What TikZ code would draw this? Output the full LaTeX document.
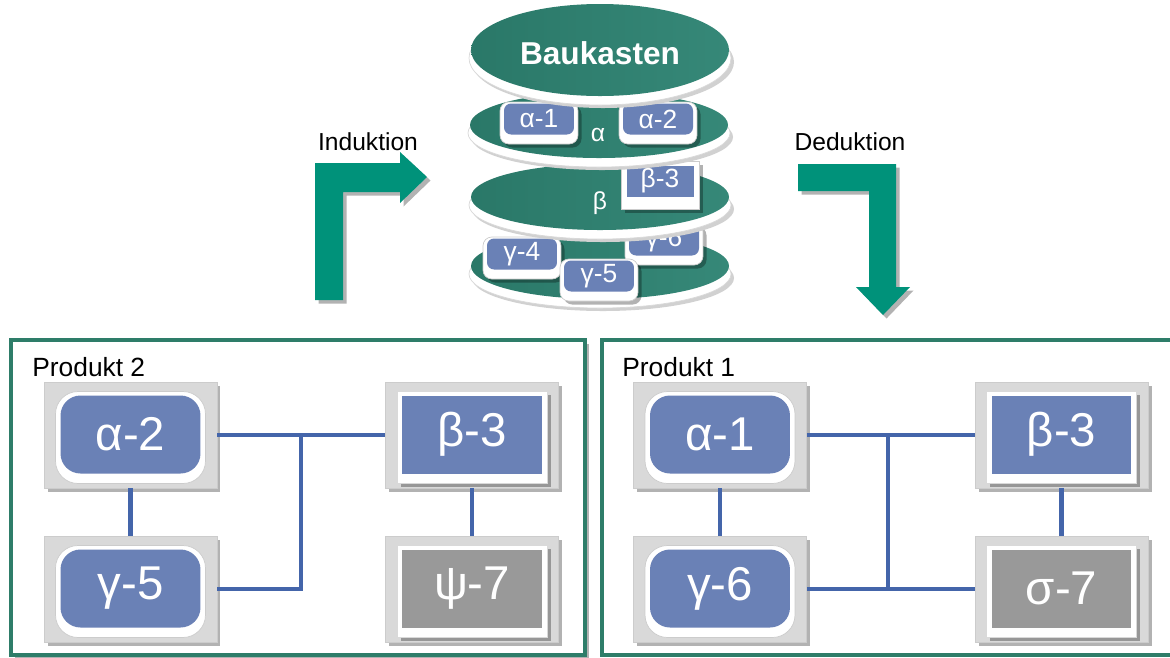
\documentclass[tikz,border=0pt]{standalone}
\usepackage{fontspec}
\setmainfont{Liberation Sans}
\definecolor{kit_teal}{RGB}{54,136,120}
\definecolor{kit_dark}{RGB}{42,120,104}
\definecolor{kit_arrow}{RGB}{0,146,122}
\definecolor{kit_frame}{RGB}{46,125,105}
\definecolor{kit_blue}{RGB}{106,129,182}
\definecolor{kit_link}{RGB}{68,101,170}
\definecolor{kit_gray}{RGB}{217,217,217}
\definecolor{kit_part}{RGB}{153,153,153}
\usetikzlibrary{shadows}

% one disc of the stack: x, y, y radius
\newcommand{\kitdisk}[3]{%
  \fill[black!18] (#1+3,#2+12) ellipse (131 and #3);
  \fill[white, draw=black!15] (#1,#2+8) ellipse (131 and #3+1);
  \shade[left color=kit_dark, right color=kit_teal] (#1,#2) ellipse (129 and #3);
}
% small part lying on a disc: name, x, y, style, label
\newcommand{\kitpart}[5]{%
  \node[#4base] (#1b) at (#2,#3+4) {};
  \node[#4] (#1) at (#2,#3) {#5};
}
% part in a product: name, x, y, style, label
\newcommand{\prodpart}[5]{%
  \node[partbg] (#1) at (#2,#3) {};
  \node[#4base] (#1b) at (#2,#3+2.5) {};
  \node[#4] (#1t) at (#2,#3-0.5) {#5};
}

\begin{document}
\begin{tikzpicture}[x=0.02cm, y=-0.02cm,
          shd/.style={drop shadow={shadow xshift=2pt, shadow yshift=-2pt,
                      opacity=0.3, fill=black}},
          frame/.style={draw=kit_frame, line width=2.6pt},
          link/.style={draw=kit_link, line width=2.7pt},
          label/.style={font=\fontsize{14}{16}\selectfont},
          partbg/.style={fill=kit_gray, draw=black!20, shd,
                         minimum width=3.46cm, minimum height=2.12cm},
          rtilebase/.style={fill=white, draw=black!20, rounded corners=0.45cm,
                            minimum width=3.0cm, minimum height=1.84cm},
          rtile/.style={fill=kit_blue, rounded corners=0.4cm, text=white,
                        minimum width=2.8cm, minimum height=1.56cm,
                        font=\fontsize{27}{30}\selectfont},
          stilebase/.style={fill=white, draw=black!15, shd,
                            minimum width=3.0cm, minimum height=1.84cm},
          stile/.style={rtile, rounded corners=0pt},
          gtilebase/.style={stilebase},
          gtile/.style={stile, fill=kit_part},
          kbbase/.style={fill=white, draw=black!20, rounded corners=5pt, shd,
                         minimum width=1.56cm, minimum height=0.84cm},
          kb/.style={fill=kit_blue, rounded corners=4pt, text=white,
                     inner sep=0pt, minimum width=1.4cm, minimum height=0.62cm,
                     font=\fontsize{15}{16}\selectfont},
          ksbase/.style={kbbase, rounded corners=0pt, minimum height=0.96cm},
          ks/.style={kb, rounded corners=0pt, minimum width=1.34cm}]
  \useasboundingbox (0,0) rectangle (1170,657);

  % the kit: four discs, bottom one first
  \kitdisk{600}{266}{33}
  \kitpart{g6}{664}{240}{kb}{γ-6}
  \kitpart{g4}{522}{254}{kb}{γ-4}
  \kitpart{g5}{599}{276}{kb}{γ-5}
  \kitdisk{600}{197}{33}
  \kitpart{b3}{660}{181}{ks}{β-3}
  \node[label, text=white] (lblbeta) at (600,203) {β};
  \kitdisk{599}{125}{33}
  \kitpart{a1}{539}{119}{kb}{α-1}
  \kitpart{a2}{658}{119}{kb}{α-2}
  \node[label, text=white] (lblalpha) at (598,135) {α};
  \kitdisk{600}{50}{46}
  \node[text=white, font=\bfseries\fontsize{18}{20}\selectfont] (kit) at (600,53) {Baukasten};

  % induction / deduction arrows
  \fill[kit_arrow, shd] (315,300) -- (315,163) -- (400,163) -- (400,152) -- (427,177)
    -- (400,203) -- (400,192) -- (343,192) -- (343,300) -- cycle;
  \fill[kit_arrow, shd] (798,164) -- (896,164) -- (896,287) -- (910,287) -- (883,315)
    -- (856,287) -- (869,287) -- (869,191) -- (798,191) -- cycle;
  \node[label] (ind) at (368,142) {Induktion};
  \node[label] (ded) at (850,142) {Deduktion};

  % Produkt 2
  \draw[frame, fill=white, shd] (11,340) rectangle (585,655);
  \node[anchor=base west, inner sep=0pt, font=\fontsize{15}{18}\selectfont] (p2)
    at (32,376) {Produkt 2};
  \prodpart{p2a}{130.5}{435}{rtile}{α-2}
  \prodpart{p2g}{130.5}{589}{rtile}{γ-5}
  \prodpart{p2b}{472}{435}{stile}{β-3}
  \prodpart{p2p}{472}{589}{gtile}{ψ-7}
  \coordinate (p2j) at (301,435);
  \draw[link] (p2a.south) -- (p2g.north);
  \draw[link] (p2b.south) -- (p2p.north);
  \draw[link] (p2a.east) -- (p2b.west);
  \draw[link] (p2g.east) -| (p2j);

  % Produkt 1
  \draw[frame] (1172,340) -- (602,340) -- (602,655) -- (1172,655);
  \node[anchor=base west, inner sep=0pt, font=\fontsize{15}{18}\selectfont] (p1)
    at (622,376) {Produkt 1};
  \prodpart{p1a}{720}{435}{rtile}{α-1}
  \prodpart{p1g}{720}{589}{rtile}{γ-6}
  \prodpart{p1b}{1061.5}{435}{stile}{β-3}
  \prodpart{p1s}{1061.5}{589}{gtile}{σ-7}
  \coordinate (p1jt) at (888,435);
  \coordinate (p1jb) at (888,589);
  \draw[link] (p1a.south) -- (p1g.north);
  \draw[link] (p1b.south) -- (p1s.north);
  \draw[link] (p1a.east) -- (p1b.west);
  \draw[link] (p1g.east) -- (p1s.west);
  \draw[link] (p1jt) -- (p1jb);
\end{tikzpicture}
\end{document}
